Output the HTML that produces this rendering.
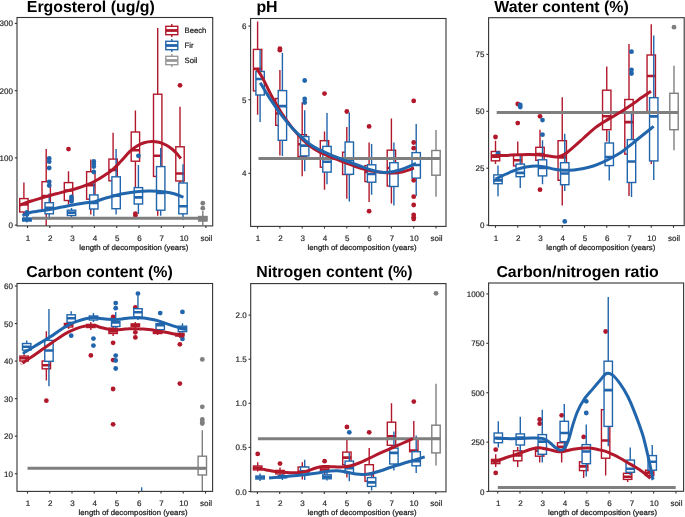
<!DOCTYPE html>
<html><head><meta charset="utf-8"><style>
html,body{margin:0;padding:0;background:#fff;}
svg{display:block;font-family:"Liberation Sans",sans-serif;text-rendering:geometricPrecision;will-change:transform;}
</style></head><body>
<svg width="685" height="517" viewBox="0 0 685 517">
<rect width="685" height="517" fill="#fff"/>
<clipPath id="c1"><rect x="17" y="17.5" width="195.7" height="208.4"/></clipPath><text x="26.8" y="11.6" font-size="15.9" font-weight="bold" fill="#000">Ergosterol (ug/g)</text><g clip-path="url(#c1)"><g stroke="#B2182B" stroke-width="1.4" fill="none"><line x1="23.9" y1="182.5" x2="23.9" y2="198.6"/><line x1="23.9" y1="212" x2="23.9" y2="216.5"/><rect x="19.7" y="198.6" width="8.4" height="13.4" fill="#fff"/><line x1="19.7" y1="204.5" x2="28.1" y2="204.5" stroke-width="2.6"/></g><g stroke="#B2182B" stroke-width="1.4" fill="none"><line x1="46.2" y1="149.1" x2="46.2" y2="181.7"/><line x1="46.2" y1="210.5" x2="46.2" y2="225.8"/><rect x="42" y="181.7" width="8.4" height="28.8" fill="#fff"/><line x1="42" y1="196" x2="50.4" y2="196" stroke-width="2.6"/></g><g stroke="#B2182B" stroke-width="1.4" fill="none"><line x1="68.5" y1="171.2" x2="68.5" y2="182.6"/><line x1="68.5" y1="200.5" x2="68.5" y2="204.5"/><rect x="64.3" y="182.6" width="8.4" height="17.9" fill="#fff"/><line x1="64.3" y1="190.5" x2="72.7" y2="190.5" stroke-width="2.6"/></g><circle cx="68.5" cy="149.1" r="2.4" fill="#B2182B"/><g stroke="#B2182B" stroke-width="1.4" fill="none"><line x1="90.8" y1="159.5" x2="90.8" y2="171.7"/><line x1="90.8" y1="199.2" x2="90.8" y2="214.5"/><rect x="86.6" y="171.7" width="8.4" height="27.5" fill="#fff"/><line x1="86.6" y1="185.2" x2="95" y2="185.2" stroke-width="2.6"/></g><g stroke="#B2182B" stroke-width="1.4" fill="none"><line x1="113.1" y1="132.7" x2="113.1" y2="159.1"/><line x1="113.1" y1="180.8" x2="113.1" y2="205"/><rect x="108.9" y="159.1" width="8.4" height="21.7" fill="#fff"/><line x1="108.9" y1="170" x2="117.3" y2="170" stroke-width="2.6"/></g><g stroke="#B2182B" stroke-width="1.4" fill="none"><line x1="135.4" y1="110.6" x2="135.4" y2="132"/><line x1="135.4" y1="161.2" x2="135.4" y2="187"/><rect x="131.2" y="132" width="8.4" height="29.2" fill="#fff"/><line x1="131.2" y1="150.2" x2="139.6" y2="150.2" stroke-width="2.6"/></g><circle cx="135.4" cy="213.6" r="2.4" fill="#B2182B"/><circle cx="135.4" cy="215.6" r="2.4" fill="#B2182B"/><g stroke="#B2182B" stroke-width="1.4" fill="none"><line x1="157.7" y1="28.1" x2="157.7" y2="94.2"/><line x1="157.7" y1="176.4" x2="157.7" y2="215.8"/><rect x="153.5" y="94.2" width="8.4" height="82.2" fill="#fff"/><line x1="153.5" y1="155.7" x2="161.9" y2="155.7" stroke-width="2.6"/></g><g stroke="#B2182B" stroke-width="1.4" fill="none"><line x1="180" y1="106.8" x2="180" y2="146.8"/><line x1="180" y1="181" x2="180" y2="205"/><rect x="175.8" y="146.8" width="8.4" height="34.2" fill="#fff"/><line x1="175.8" y1="173.5" x2="184.2" y2="173.5" stroke-width="2.6"/></g><circle cx="180" cy="85.3" r="2.4" fill="#B2182B"/><g stroke="#2166AC" stroke-width="1.4" fill="none"><line x1="26.9" y1="215.5" x2="26.9" y2="218.2"/><line x1="26.9" y1="220.8" x2="26.9" y2="222.5"/><rect x="22.7" y="218.2" width="8.4" height="2.6" fill="#fff"/><line x1="22.7" y1="219.5" x2="31.1" y2="219.5" stroke-width="2.6"/></g><circle cx="26.9" cy="212.5" r="2.4" fill="#2166AC"/><circle cx="26.9" cy="214.5" r="2.4" fill="#2166AC"/><g stroke="#2166AC" stroke-width="1.4" fill="none"><line x1="49.2" y1="193.6" x2="49.2" y2="202.7"/><line x1="49.2" y1="213.8" x2="49.2" y2="219.6"/><rect x="45" y="202.7" width="8.4" height="11.1" fill="#fff"/><line x1="45" y1="207.9" x2="53.4" y2="207.9" stroke-width="2.6"/></g><circle cx="49.2" cy="158.4" r="2.4" fill="#2166AC"/><circle cx="49.2" cy="161.7" r="2.4" fill="#2166AC"/><circle cx="49.2" cy="168" r="2.4" fill="#2166AC"/><circle cx="49.2" cy="181.8" r="2.4" fill="#2166AC"/><circle cx="49.2" cy="185.6" r="2.4" fill="#2166AC"/><g stroke="#2166AC" stroke-width="1.4" fill="none"><line x1="71.5" y1="208" x2="71.5" y2="210.2"/><line x1="71.5" y1="215.5" x2="71.5" y2="217"/><rect x="67.3" y="210.2" width="8.4" height="5.3" fill="#fff"/><line x1="67.3" y1="212.6" x2="75.7" y2="212.6" stroke-width="2.6"/></g><circle cx="71.5" cy="197" r="2.4" fill="#2166AC"/><circle cx="71.5" cy="199.1" r="2.4" fill="#2166AC"/><circle cx="71.5" cy="201.4" r="2.4" fill="#2166AC"/><g stroke="#2166AC" stroke-width="1.4" fill="none"><line x1="93.8" y1="183" x2="93.8" y2="194.9"/><line x1="93.8" y1="209" x2="93.8" y2="216.3"/><rect x="89.6" y="194.9" width="8.4" height="14.1" fill="#fff"/><line x1="89.6" y1="203" x2="98" y2="203" stroke-width="2.6"/></g><circle cx="93.8" cy="161.5" r="2.4" fill="#2166AC"/><circle cx="93.8" cy="163.8" r="2.4" fill="#2166AC"/><circle cx="93.8" cy="166.6" r="2.4" fill="#2166AC"/><circle cx="93.8" cy="172" r="2.4" fill="#2166AC"/><g stroke="#2166AC" stroke-width="1.4" fill="none"><line x1="116.1" y1="149" x2="116.1" y2="176.8"/><line x1="116.1" y1="208.7" x2="116.1" y2="214.5"/><rect x="111.9" y="176.8" width="8.4" height="31.9" fill="#fff"/><line x1="111.9" y1="195.6" x2="120.3" y2="195.6" stroke-width="2.6"/></g><g stroke="#2166AC" stroke-width="1.4" fill="none"><line x1="138.4" y1="165" x2="138.4" y2="187.6"/><line x1="138.4" y1="204" x2="138.4" y2="214"/><rect x="134.2" y="187.6" width="8.4" height="16.4" fill="#fff"/><line x1="134.2" y1="197.4" x2="142.6" y2="197.4" stroke-width="2.6"/></g><circle cx="138.4" cy="155.8" r="2.4" fill="#2166AC"/><g stroke="#2166AC" stroke-width="1.4" fill="none"><line x1="160.7" y1="148.1" x2="160.7" y2="166.6"/><line x1="160.7" y1="210.2" x2="160.7" y2="215.8"/><rect x="156.5" y="166.6" width="8.4" height="43.6" fill="#fff"/><line x1="156.5" y1="193" x2="164.9" y2="193" stroke-width="2.6"/></g><g stroke="#2166AC" stroke-width="1.4" fill="none"><line x1="183" y1="164.2" x2="183" y2="183"/><line x1="183" y1="213.8" x2="183" y2="220"/><rect x="178.8" y="183" width="8.4" height="30.8" fill="#fff"/><line x1="178.8" y1="206.3" x2="187.2" y2="206.3" stroke-width="2.6"/></g><g stroke="#7f7f7f" stroke-width="1.4" fill="none"><line x1="202.8" y1="211" x2="202.8" y2="216.6"/><line x1="202.8" y1="220.8" x2="202.8" y2="225"/><rect x="198.6" y="216.6" width="8.4" height="4.2" fill="#fff"/><line x1="198.6" y1="218.4" x2="207" y2="218.4" stroke-width="2.6"/></g><circle cx="202.8" cy="203.2" r="2.4" fill="#7f7f7f"/><circle cx="202.8" cy="208.2" r="2.4" fill="#7f7f7f"/><rect x="22.1" y="217.5" width="9.7" height="4" fill="#2166AC"/><rect x="198.3" y="215.9" width="9" height="5.6" fill="#7f7f7f"/><line x1="31.8" y1="218.3" x2="206" y2="218.3" stroke="#7f7f7f" stroke-width="3"/><path d="M19.5,205.2 C20.38,204.85 22.47,203.9 24.8,203.1 C27.13,202.3 30.58,201.28 33.5,200.4 C36.42,199.52 39.38,198.67 42.3,197.8 C45.22,196.93 48.08,196.02 51,195.2 C53.92,194.38 56.87,193.68 59.8,192.9 C62.73,192.12 65.68,191.28 68.6,190.5 C71.52,189.72 74.38,189.08 77.3,188.2 C80.22,187.32 83.18,186.37 86.1,185.2 C89.02,184.03 91.88,182.75 94.8,181.2 C97.72,179.65 100.67,177.8 103.6,175.9 C106.53,174 109.48,172.28 112.4,169.8 C115.32,167.32 118.18,164.07 121.1,161 C124.02,157.93 127.25,153.9 129.9,151.4 C132.55,148.9 134.65,147.43 137,146 C139.35,144.57 141.57,143.55 144,142.8 C146.43,142.05 149.1,141.58 151.6,141.5 C154.1,141.42 156.6,141.72 159,142.3 C161.4,142.88 163.83,143.88 166,145 C168.17,146.12 170.17,147.53 172,149 C173.83,150.47 175.53,152.2 177,153.8 C178.47,155.4 180.17,157.8 180.8,158.6" fill="none" stroke="#B2182B" stroke-width="3" stroke-linecap="butt" stroke-linejoin="round"/><path d="M22.5,215.5 C23.17,215.18 24.67,214.22 26.5,213.6 C28.33,212.98 29.42,212.53 33.5,211.8 C37.58,211.07 45.15,210.22 51,209.2 C56.85,208.18 62.75,206.78 68.6,205.7 C74.45,204.62 81.73,203.37 86.1,202.7 C90.47,202.03 91.88,202.37 94.8,201.7 C97.72,201.03 100.67,199.58 103.6,198.7 C106.53,197.82 109.48,197.18 112.4,196.4 C115.32,195.62 117.17,194.78 121.1,194 C125.03,193.22 131.13,192.18 136,191.7 C140.87,191.22 145.47,191.05 150.3,191.1 C155.13,191.15 160.88,191.52 165,192 C169.12,192.48 171.92,193.13 175,194 C178.08,194.87 182.08,196.67 183.5,197.2" fill="none" stroke="#2166AC" stroke-width="3" stroke-linecap="butt" stroke-linejoin="round"/></g><rect x="17" y="17.5" width="195.7" height="208.4" fill="none" stroke="#333333" stroke-width="1.1"/><line x1="14.8" y1="225.1" x2="17" y2="225.1" stroke="#333333" stroke-width="1.1"/><text x="12.9" y="228.1" font-size="8" text-anchor="end" fill="#222222" stroke="#333" stroke-width="0.2">0</text><line x1="14.8" y1="157.9" x2="17" y2="157.9" stroke="#333333" stroke-width="1.1"/><text x="12.9" y="160.9" font-size="8" text-anchor="end" fill="#222222" stroke="#333" stroke-width="0.2">100</text><line x1="14.8" y1="90.7" x2="17" y2="90.7" stroke="#333333" stroke-width="1.1"/><text x="12.9" y="93.7" font-size="8" text-anchor="end" fill="#222222" stroke="#333" stroke-width="0.2">200</text><line x1="14.8" y1="23.4" x2="17" y2="23.4" stroke="#333333" stroke-width="1.1"/><text x="12.9" y="26.4" font-size="8" text-anchor="end" fill="#222222" stroke="#333" stroke-width="0.2">300</text><line x1="27.5" y1="225.9" x2="27.5" y2="228.1" stroke="#333333" stroke-width="1.1"/><text x="28" y="240.8" font-size="8" text-anchor="middle" fill="#222222" stroke="#333" stroke-width="0.2">1</text><line x1="49.8" y1="225.9" x2="49.8" y2="228.1" stroke="#333333" stroke-width="1.1"/><text x="50.3" y="240.8" font-size="8" text-anchor="middle" fill="#222222" stroke="#333" stroke-width="0.2">2</text><line x1="72.1" y1="225.9" x2="72.1" y2="228.1" stroke="#333333" stroke-width="1.1"/><text x="72.6" y="240.8" font-size="8" text-anchor="middle" fill="#222222" stroke="#333" stroke-width="0.2">3</text><line x1="94.4" y1="225.9" x2="94.4" y2="228.1" stroke="#333333" stroke-width="1.1"/><text x="94.9" y="240.8" font-size="8" text-anchor="middle" fill="#222222" stroke="#333" stroke-width="0.2">4</text><line x1="116.7" y1="225.9" x2="116.7" y2="228.1" stroke="#333333" stroke-width="1.1"/><text x="117.2" y="240.8" font-size="8" text-anchor="middle" fill="#222222" stroke="#333" stroke-width="0.2">5</text><line x1="139" y1="225.9" x2="139" y2="228.1" stroke="#333333" stroke-width="1.1"/><text x="139.5" y="240.8" font-size="8" text-anchor="middle" fill="#222222" stroke="#333" stroke-width="0.2">6</text><line x1="161.3" y1="225.9" x2="161.3" y2="228.1" stroke="#333333" stroke-width="1.1"/><text x="161.8" y="240.8" font-size="8" text-anchor="middle" fill="#222222" stroke="#333" stroke-width="0.2">7</text><line x1="183.6" y1="225.9" x2="183.6" y2="228.1" stroke="#333333" stroke-width="1.1"/><text x="184.1" y="240.8" font-size="8" text-anchor="middle" fill="#222222" stroke="#333" stroke-width="0.2">10</text><line x1="205.9" y1="225.9" x2="205.9" y2="228.1" stroke="#333333" stroke-width="1.1"/><text x="206.4" y="240.8" font-size="8" text-anchor="middle" fill="#222222" stroke="#333" stroke-width="0.2">soil</text><text x="79.3" y="249.6" font-size="7.5" textLength="109" lengthAdjust="spacingAndGlyphs" fill="#111" stroke="#222" stroke-width="0.22">length of decomposition (years)</text>
<clipPath id="c2"><rect x="250.6" y="18.5" width="195.4" height="207.9"/></clipPath><text x="256.4" y="11.8" font-size="15.9" font-weight="bold" fill="#000">pH</text><g clip-path="url(#c2)"><g stroke="#B2182B" stroke-width="1.4" fill="none"><line x1="257.6" y1="21.5" x2="257.6" y2="49.4"/><line x1="257.6" y1="90.9" x2="257.6" y2="114.8"/><rect x="253.4" y="49.4" width="8.4" height="41.5" fill="#fff"/><line x1="253.4" y1="68.9" x2="261.8" y2="68.9" stroke-width="2.6"/></g><g stroke="#B2182B" stroke-width="1.4" fill="none"><line x1="279.9" y1="69.9" x2="279.9" y2="98.5"/><line x1="279.9" y1="125.3" x2="279.9" y2="155.5"/><rect x="275.7" y="98.5" width="8.4" height="26.8" fill="#fff"/><line x1="275.7" y1="113.5" x2="284.1" y2="113.5" stroke-width="2.6"/></g><circle cx="279.9" cy="48.6" r="2.4" fill="#B2182B"/><circle cx="279.9" cy="50.2" r="2.4" fill="#B2182B"/><g stroke="#B2182B" stroke-width="1.4" fill="none"><line x1="302.2" y1="102.5" x2="302.2" y2="134.7"/><line x1="302.2" y1="156.4" x2="302.2" y2="176.2"/><rect x="298" y="134.7" width="8.4" height="21.7" fill="#fff"/><line x1="298" y1="144.2" x2="306.4" y2="144.2" stroke-width="2.6"/></g><g stroke="#B2182B" stroke-width="1.4" fill="none"><line x1="324.5" y1="131.5" x2="324.5" y2="140.7"/><line x1="324.5" y1="167.2" x2="324.5" y2="189.7"/><rect x="320.3" y="140.7" width="8.4" height="26.5" fill="#fff"/><line x1="320.3" y1="150" x2="328.7" y2="150" stroke-width="2.6"/></g><circle cx="324.5" cy="93.6" r="2.4" fill="#B2182B"/><g stroke="#B2182B" stroke-width="1.4" fill="none"><line x1="346.8" y1="126.9" x2="346.8" y2="152.2"/><line x1="346.8" y1="174.5" x2="346.8" y2="198.7"/><rect x="342.6" y="152.2" width="8.4" height="22.3" fill="#fff"/><line x1="342.6" y1="160" x2="351" y2="160" stroke-width="2.6"/></g><circle cx="346.8" cy="111.5" r="2.4" fill="#B2182B"/><g stroke="#B2182B" stroke-width="1.4" fill="none"><line x1="369.1" y1="142.4" x2="369.1" y2="165.6"/><line x1="369.1" y1="181.6" x2="369.1" y2="201.9"/><rect x="364.9" y="165.6" width="8.4" height="16" fill="#fff"/><line x1="364.9" y1="172" x2="373.3" y2="172" stroke-width="2.6"/></g><circle cx="369.1" cy="126.4" r="2.4" fill="#B2182B"/><circle cx="369.1" cy="211.2" r="2.4" fill="#B2182B"/><g stroke="#B2182B" stroke-width="1.4" fill="none"><line x1="391.4" y1="118.6" x2="391.4" y2="150.2"/><line x1="391.4" y1="186" x2="391.4" y2="203.4"/><rect x="387.2" y="150.2" width="8.4" height="35.8" fill="#fff"/><line x1="387.2" y1="168" x2="395.6" y2="168" stroke-width="2.6"/></g><g stroke="#2166AC" stroke-width="1.4" fill="none"><line x1="260.1" y1="49.4" x2="260.1" y2="71.5"/><line x1="260.1" y1="95" x2="260.1" y2="122"/><rect x="255.9" y="71.5" width="8.4" height="23.5" fill="#fff"/><line x1="255.9" y1="79" x2="264.3" y2="79" stroke-width="2.6"/></g><g stroke="#2166AC" stroke-width="1.4" fill="none"><line x1="282.4" y1="52.8" x2="282.4" y2="90.6"/><line x1="282.4" y1="140.3" x2="282.4" y2="156"/><rect x="278.2" y="90.6" width="8.4" height="49.7" fill="#fff"/><line x1="278.2" y1="106.1" x2="286.6" y2="106.1" stroke-width="2.6"/></g><g stroke="#2166AC" stroke-width="1.4" fill="none"><line x1="304.7" y1="110.3" x2="304.7" y2="136.6"/><line x1="304.7" y1="155.9" x2="304.7" y2="171.3"/><rect x="300.5" y="136.6" width="8.4" height="19.3" fill="#fff"/><line x1="300.5" y1="145.6" x2="308.9" y2="145.6" stroke-width="2.6"/></g><circle cx="304.7" cy="80.5" r="2.4" fill="#2166AC"/><circle cx="304.7" cy="99" r="2.4" fill="#2166AC"/><circle cx="304.7" cy="102.5" r="2.4" fill="#2166AC"/><g stroke="#2166AC" stroke-width="1.4" fill="none"><line x1="327" y1="113" x2="327" y2="146.4"/><line x1="327" y1="172.1" x2="327" y2="184.3"/><rect x="322.8" y="146.4" width="8.4" height="25.7" fill="#fff"/><line x1="322.8" y1="161.8" x2="331.2" y2="161.8" stroke-width="2.6"/></g><g stroke="#2166AC" stroke-width="1.4" fill="none"><line x1="349.3" y1="112.5" x2="349.3" y2="142"/><line x1="349.3" y1="174.3" x2="349.3" y2="201.5"/><rect x="345.1" y="142" width="8.4" height="32.3" fill="#fff"/><line x1="345.1" y1="159.8" x2="353.5" y2="159.8" stroke-width="2.6"/></g><g stroke="#2166AC" stroke-width="1.4" fill="none"><line x1="371.6" y1="143.9" x2="371.6" y2="164.8"/><line x1="371.6" y1="182.2" x2="371.6" y2="194.7"/><rect x="367.4" y="164.8" width="8.4" height="17.4" fill="#fff"/><line x1="367.4" y1="174" x2="375.8" y2="174" stroke-width="2.6"/></g><g stroke="#2166AC" stroke-width="1.4" fill="none"><line x1="393.9" y1="142.4" x2="393.9" y2="162.7"/><line x1="393.9" y1="186.5" x2="393.9" y2="205.4"/><rect x="389.7" y="162.7" width="8.4" height="23.8" fill="#fff"/><line x1="389.7" y1="172.9" x2="398.1" y2="172.9" stroke-width="2.6"/></g><g stroke="#2166AC" stroke-width="1.4" fill="none"><line x1="416.2" y1="124.1" x2="416.2" y2="152.6"/><line x1="416.2" y1="178.1" x2="416.2" y2="196.1"/><rect x="412" y="152.6" width="8.4" height="25.5" fill="#fff"/><line x1="412" y1="165" x2="420.4" y2="165" stroke-width="2.6"/></g><g stroke="#7f7f7f" stroke-width="1.4" fill="none"><line x1="436" y1="129.9" x2="436" y2="150.5"/><line x1="436" y1="175.2" x2="436" y2="196.7"/><rect x="431.8" y="150.5" width="8.4" height="24.7" fill="#fff"/><line x1="431.8" y1="158.4" x2="440.2" y2="158.4" stroke-width="2.6"/></g><circle cx="413.7" cy="100.9" r="2.4" fill="#B2182B"/><circle cx="413.7" cy="142.5" r="2.4" fill="#B2182B"/><circle cx="413.7" cy="148.2" r="2.4" fill="#B2182B"/><circle cx="413.7" cy="180.3" r="2.4" fill="#B2182B"/><circle cx="413.7" cy="196.7" r="2.4" fill="#B2182B"/><circle cx="413.7" cy="205.0" r="2.4" fill="#B2182B"/><circle cx="413.7" cy="214.8" r="2.4" fill="#B2182B"/><circle cx="413.7" cy="217.3" r="2.4" fill="#B2182B"/><circle cx="413.7" cy="219.0" r="2.4" fill="#B2182B"/><line x1="258.5" y1="158.5" x2="440" y2="158.5" stroke="#7f7f7f" stroke-width="3"/><path d="M256.4,68.2 C257.47,69.9 260.32,73.87 262.8,78.4 C265.28,82.93 268.12,89.55 271.3,95.4 C274.48,101.25 278.35,108 281.9,113.5 C285.45,119 289.05,123.97 292.6,128.4 C296.15,132.83 299.67,136.73 303.2,140.1 C306.73,143.47 309.33,145.83 313.8,148.6 C318.27,151.37 324.8,154.38 330,156.7 C335.2,159.02 340,160.62 345,162.5 C350,164.38 355,166.5 360,168 C365,169.5 370,170.67 375,171.5 C380,172.33 385.5,172.92 390,173 C394.5,173.08 398,172.83 402,172 C406,171.17 412,168.67 414,168" fill="none" stroke="#B2182B" stroke-width="3" stroke-linecap="butt" stroke-linejoin="round"/><path d="M260.2,82.7 C262.05,85.7 267.68,95.22 271.3,100.7 C274.92,106.18 278.35,110.98 281.9,115.6 C285.45,120.22 289.05,124.57 292.6,128.4 C296.15,132.23 299.67,135.52 303.2,138.6 C306.73,141.68 309.33,144.23 313.8,146.9 C318.27,149.57 324.8,152.33 330,154.6 C335.2,156.87 340,158.6 345,160.5 C350,162.4 355,164.25 360,166 C365,167.75 370.83,169.92 375,171 C379.17,172.08 380.83,172.67 385,172.5 C389.17,172.33 394.83,171.5 400,170 C405.17,168.5 413.33,164.58 416,163.5" fill="none" stroke="#2166AC" stroke-width="3" stroke-linecap="butt" stroke-linejoin="round"/></g><rect x="250.6" y="18.5" width="195.4" height="207.9" fill="none" stroke="#333333" stroke-width="1.1"/><line x1="248.4" y1="173.3" x2="250.6" y2="173.3" stroke="#333333" stroke-width="1.1"/><text x="246.5" y="176.3" font-size="8" text-anchor="end" fill="#222222" stroke="#333" stroke-width="0.2">4</text><line x1="248.4" y1="99.7" x2="250.6" y2="99.7" stroke="#333333" stroke-width="1.1"/><text x="246.5" y="102.7" font-size="8" text-anchor="end" fill="#222222" stroke="#333" stroke-width="0.2">5</text><line x1="248.4" y1="26.1" x2="250.6" y2="26.1" stroke="#333333" stroke-width="1.1"/><text x="246.5" y="29.1" font-size="8" text-anchor="end" fill="#222222" stroke="#333" stroke-width="0.2">6</text><line x1="257.6" y1="226.4" x2="257.6" y2="228.6" stroke="#333333" stroke-width="1.1"/><text x="258.1" y="240.8" font-size="8" text-anchor="middle" fill="#222222" stroke="#333" stroke-width="0.2">1</text><line x1="279.9" y1="226.4" x2="279.9" y2="228.6" stroke="#333333" stroke-width="1.1"/><text x="280.4" y="240.8" font-size="8" text-anchor="middle" fill="#222222" stroke="#333" stroke-width="0.2">2</text><line x1="302.2" y1="226.4" x2="302.2" y2="228.6" stroke="#333333" stroke-width="1.1"/><text x="302.7" y="240.8" font-size="8" text-anchor="middle" fill="#222222" stroke="#333" stroke-width="0.2">3</text><line x1="324.5" y1="226.4" x2="324.5" y2="228.6" stroke="#333333" stroke-width="1.1"/><text x="325" y="240.8" font-size="8" text-anchor="middle" fill="#222222" stroke="#333" stroke-width="0.2">4</text><line x1="346.8" y1="226.4" x2="346.8" y2="228.6" stroke="#333333" stroke-width="1.1"/><text x="347.3" y="240.8" font-size="8" text-anchor="middle" fill="#222222" stroke="#333" stroke-width="0.2">5</text><line x1="369.1" y1="226.4" x2="369.1" y2="228.6" stroke="#333333" stroke-width="1.1"/><text x="369.6" y="240.8" font-size="8" text-anchor="middle" fill="#222222" stroke="#333" stroke-width="0.2">6</text><line x1="391.4" y1="226.4" x2="391.4" y2="228.6" stroke="#333333" stroke-width="1.1"/><text x="391.9" y="240.8" font-size="8" text-anchor="middle" fill="#222222" stroke="#333" stroke-width="0.2">7</text><line x1="413.7" y1="226.4" x2="413.7" y2="228.6" stroke="#333333" stroke-width="1.1"/><text x="414.2" y="240.8" font-size="8" text-anchor="middle" fill="#222222" stroke="#333" stroke-width="0.2">10</text><line x1="436" y1="226.4" x2="436" y2="228.6" stroke="#333333" stroke-width="1.1"/><text x="436.5" y="240.8" font-size="8" text-anchor="middle" fill="#222222" stroke="#333" stroke-width="0.2">soil</text><text x="307.5" y="249.6" font-size="7.5" textLength="109" lengthAdjust="spacingAndGlyphs" fill="#111" stroke="#222" stroke-width="0.22">length of decomposition (years)</text>
<clipPath id="c3"><rect x="488.6" y="17.7" width="195.6" height="207.9"/></clipPath><text x="494.3" y="11.8" font-size="15.9" font-weight="bold" fill="#000">Water content (%)</text><g clip-path="url(#c3)"><g stroke="#B2182B" stroke-width="1.4" fill="none"><line x1="495.5" y1="140.7" x2="495.5" y2="151.5"/><line x1="495.5" y1="160.8" x2="495.5" y2="164.1"/><rect x="491.3" y="151.5" width="8.4" height="9.3" fill="#fff"/><line x1="491.3" y1="156.6" x2="499.7" y2="156.6" stroke-width="2.6"/></g><circle cx="495.5" cy="137" r="2.4" fill="#B2182B"/><g stroke="#B2182B" stroke-width="1.4" fill="none"><line x1="517.75" y1="141.5" x2="517.75" y2="155.3"/><line x1="517.75" y1="165.9" x2="517.75" y2="168"/><rect x="513.55" y="155.3" width="8.4" height="10.6" fill="#fff"/><line x1="513.55" y1="160.3" x2="521.95" y2="160.3" stroke-width="2.6"/></g><circle cx="517.75" cy="104" r="2.4" fill="#B2182B"/><circle cx="517.75" cy="123.1" r="2.4" fill="#B2182B"/><g stroke="#B2182B" stroke-width="1.4" fill="none"><line x1="540" y1="129.7" x2="540" y2="147.3"/><line x1="540" y1="160.3" x2="540" y2="165"/><rect x="535.8" y="147.3" width="8.4" height="13" fill="#fff"/><line x1="535.8" y1="154" x2="544.2" y2="154" stroke-width="2.6"/></g><circle cx="540" cy="116.3" r="2.4" fill="#B2182B"/><circle cx="540" cy="189.7" r="2.4" fill="#B2182B"/><g stroke="#B2182B" stroke-width="1.4" fill="none"><line x1="562.25" y1="97.2" x2="562.25" y2="140.7"/><line x1="562.25" y1="180.3" x2="562.25" y2="205.5"/><rect x="558.05" y="140.7" width="8.4" height="39.6" fill="#fff"/><line x1="558.05" y1="157.4" x2="566.45" y2="157.4" stroke-width="2.6"/></g><g stroke="#B2182B" stroke-width="1.4" fill="none"><line x1="606.75" y1="66.6" x2="606.75" y2="90.2"/><line x1="606.75" y1="129.7" x2="606.75" y2="141.5"/><rect x="602.55" y="90.2" width="8.4" height="39.5" fill="#fff"/><line x1="602.55" y1="116.3" x2="610.95" y2="116.3" stroke-width="2.6"/></g><g stroke="#B2182B" stroke-width="1.4" fill="none"><line x1="629" y1="43.9" x2="629" y2="99.5"/><line x1="629" y1="154.1" x2="629" y2="196.1"/><rect x="624.8" y="99.5" width="8.4" height="54.6" fill="#fff"/><line x1="624.8" y1="122.1" x2="633.2" y2="122.1" stroke-width="2.6"/></g><g stroke="#B2182B" stroke-width="1.4" fill="none"><line x1="651.25" y1="24.3" x2="651.25" y2="55"/><line x1="651.25" y1="111.5" x2="651.25" y2="164"/><rect x="647.05" y="55" width="8.4" height="56.5" fill="#fff"/><line x1="647.05" y1="76" x2="655.45" y2="76" stroke-width="2.6"/></g><g stroke="#2166AC" stroke-width="1.4" fill="none"><line x1="498" y1="165.4" x2="498" y2="174.9"/><line x1="498" y1="183.7" x2="498" y2="196.3"/><rect x="493.8" y="174.9" width="8.4" height="8.8" fill="#fff"/><line x1="493.8" y1="180.4" x2="502.2" y2="180.4" stroke-width="2.6"/></g><circle cx="498" cy="153.3" r="2.4" fill="#2166AC"/><g stroke="#2166AC" stroke-width="1.4" fill="none"><line x1="520.25" y1="154" x2="520.25" y2="164.1"/><line x1="520.25" y1="176.7" x2="520.25" y2="188"/><rect x="516.05" y="164.1" width="8.4" height="12.6" fill="#fff"/><line x1="516.05" y1="172.9" x2="524.45" y2="172.9" stroke-width="2.6"/></g><circle cx="520.25" cy="105" r="2.4" fill="#2166AC"/><circle cx="520.25" cy="107" r="2.4" fill="#2166AC"/><g stroke="#2166AC" stroke-width="1.4" fill="none"><line x1="542.5" y1="140.2" x2="542.5" y2="159.8"/><line x1="542.5" y1="175.9" x2="542.5" y2="184.2"/><rect x="538.3" y="159.8" width="8.4" height="16.1" fill="#fff"/><line x1="538.3" y1="167.9" x2="546.7" y2="167.9" stroke-width="2.6"/></g><circle cx="542.5" cy="120.1" r="2.4" fill="#2166AC"/><circle cx="542.5" cy="134.7" r="2.4" fill="#2166AC"/><g stroke="#2166AC" stroke-width="1.4" fill="none"><line x1="564.75" y1="133.7" x2="564.75" y2="162.7"/><line x1="564.75" y1="184.7" x2="564.75" y2="191"/><rect x="560.55" y="162.7" width="8.4" height="22" fill="#fff"/><line x1="560.55" y1="173.5" x2="568.95" y2="173.5" stroke-width="2.6"/></g><circle cx="564.75" cy="221.4" r="2.4" fill="#2166AC"/><g stroke="#2166AC" stroke-width="1.4" fill="none"><line x1="609.25" y1="130.7" x2="609.25" y2="143"/><line x1="609.25" y1="165.6" x2="609.25" y2="180.5"/><rect x="605.05" y="143" width="8.4" height="22.6" fill="#fff"/><line x1="605.05" y1="157" x2="613.45" y2="157" stroke-width="2.6"/></g><g stroke="#2166AC" stroke-width="1.4" fill="none"><line x1="631.5" y1="113.5" x2="631.5" y2="139.6"/><line x1="631.5" y1="182.5" x2="631.5" y2="196.9"/><rect x="627.3" y="139.6" width="8.4" height="42.9" fill="#fff"/><line x1="627.3" y1="161.5" x2="635.7" y2="161.5" stroke-width="2.6"/></g><circle cx="631.5" cy="51.7" r="2.4" fill="#2166AC"/><circle cx="631.5" cy="70" r="2.4" fill="#2166AC"/><circle cx="631.5" cy="73.6" r="2.4" fill="#2166AC"/><g stroke="#2166AC" stroke-width="1.4" fill="none"><line x1="653.75" y1="35.5" x2="653.75" y2="97.7"/><line x1="653.75" y1="160.9" x2="653.75" y2="180"/><rect x="649.55" y="97.7" width="8.4" height="63.2" fill="#fff"/><line x1="649.55" y1="116.4" x2="657.95" y2="116.4" stroke-width="2.6"/></g><g stroke="#7f7f7f" stroke-width="1.4" fill="none"><line x1="674" y1="65.7" x2="674" y2="93.3"/><line x1="674" y1="129.7" x2="674" y2="150.3"/><rect x="669.8" y="93.3" width="8.4" height="36.4" fill="#fff"/><line x1="669.8" y1="112.5" x2="678.2" y2="112.5" stroke-width="2.6"/></g><circle cx="674" cy="27.2" r="2.4" fill="#7f7f7f"/><line x1="496.7" y1="112.5" x2="678.3" y2="112.5" stroke="#7f7f7f" stroke-width="3"/><path d="M491,155.8 C493.33,155.73 500.5,155.57 505,155.4 C509.5,155.23 513.83,154.95 518,154.8 C522.17,154.65 525.5,154.4 530,154.5 C534.5,154.6 540.57,155 545,155.4 C549.43,155.8 553.38,157.07 556.6,156.9 C559.82,156.73 561.4,156.1 564.3,154.4 C567.2,152.7 570.77,149.43 574,146.7 C577.23,143.97 580.48,140.9 583.7,138 C586.92,135.1 590.08,131.88 593.3,129.3 C596.52,126.72 599.78,124.6 603,122.5 C606.22,120.4 609.38,118.63 612.6,116.7 C615.82,114.77 619.07,112.92 622.3,110.9 C625.53,108.88 628.78,106.82 632,104.6 C635.22,102.38 638.43,99.83 641.6,97.6 C644.77,95.37 649.43,92.27 651,91.2" fill="none" stroke="#B2182B" stroke-width="3" stroke-linecap="butt" stroke-linejoin="round"/><path d="M495.5,179.2 C497.08,178.42 501.3,176.18 505,174.5 C508.7,172.82 514.2,170.35 517.7,169.1 C521.2,167.85 522.98,167.53 526,167 C529.02,166.47 532.63,165.9 535.8,165.9 C538.97,165.9 541.85,166.43 545,167 C548.15,167.57 551.48,168.75 554.7,169.3 C557.92,169.85 561.08,170.2 564.3,170.3 C567.52,170.4 570.77,170.2 574,169.9 C577.23,169.6 580.48,169.15 583.7,168.5 C586.92,167.85 590.08,167.07 593.3,166 C596.52,164.93 599.78,163.55 603,162.1 C606.22,160.65 609.38,159.07 612.6,157.3 C615.82,155.53 619.07,153.75 622.3,151.5 C625.53,149.25 628.78,146.38 632,143.8 C635.22,141.22 638,138.9 641.6,136 C645.2,133.1 651.6,128 653.6,126.4" fill="none" stroke="#2166AC" stroke-width="3" stroke-linecap="butt" stroke-linejoin="round"/></g><rect x="488.6" y="17.7" width="195.6" height="207.9" fill="none" stroke="#333333" stroke-width="1.1"/><line x1="486.4" y1="225.1" x2="488.6" y2="225.1" stroke="#333333" stroke-width="1.1"/><text x="484.5" y="228.1" font-size="8" text-anchor="end" fill="#222222" stroke="#333" stroke-width="0.2">0</text><line x1="486.4" y1="168.2" x2="488.6" y2="168.2" stroke="#333333" stroke-width="1.1"/><text x="484.5" y="171.2" font-size="8" text-anchor="end" fill="#222222" stroke="#333" stroke-width="0.2">25</text><line x1="486.4" y1="111.3" x2="488.6" y2="111.3" stroke="#333333" stroke-width="1.1"/><text x="484.5" y="114.3" font-size="8" text-anchor="end" fill="#222222" stroke="#333" stroke-width="0.2">50</text><line x1="486.4" y1="54.4" x2="488.6" y2="54.4" stroke="#333333" stroke-width="1.1"/><text x="484.5" y="57.4" font-size="8" text-anchor="end" fill="#222222" stroke="#333" stroke-width="0.2">75</text><line x1="495.5" y1="225.6" x2="495.5" y2="227.8" stroke="#333333" stroke-width="1.1"/><text x="496" y="240.8" font-size="8" text-anchor="middle" fill="#222222" stroke="#333" stroke-width="0.2">1</text><line x1="517.75" y1="225.6" x2="517.75" y2="227.8" stroke="#333333" stroke-width="1.1"/><text x="518.25" y="240.8" font-size="8" text-anchor="middle" fill="#222222" stroke="#333" stroke-width="0.2">2</text><line x1="540" y1="225.6" x2="540" y2="227.8" stroke="#333333" stroke-width="1.1"/><text x="540.5" y="240.8" font-size="8" text-anchor="middle" fill="#222222" stroke="#333" stroke-width="0.2">3</text><line x1="562.25" y1="225.6" x2="562.25" y2="227.8" stroke="#333333" stroke-width="1.1"/><text x="562.75" y="240.8" font-size="8" text-anchor="middle" fill="#222222" stroke="#333" stroke-width="0.2">4</text><line x1="584.5" y1="225.6" x2="584.5" y2="227.8" stroke="#333333" stroke-width="1.1"/><text x="585" y="240.8" font-size="8" text-anchor="middle" fill="#222222" stroke="#333" stroke-width="0.2">5</text><line x1="606.75" y1="225.6" x2="606.75" y2="227.8" stroke="#333333" stroke-width="1.1"/><text x="607.25" y="240.8" font-size="8" text-anchor="middle" fill="#222222" stroke="#333" stroke-width="0.2">6</text><line x1="629" y1="225.6" x2="629" y2="227.8" stroke="#333333" stroke-width="1.1"/><text x="629.5" y="240.8" font-size="8" text-anchor="middle" fill="#222222" stroke="#333" stroke-width="0.2">7</text><line x1="651.25" y1="225.6" x2="651.25" y2="227.8" stroke="#333333" stroke-width="1.1"/><text x="651.75" y="240.8" font-size="8" text-anchor="middle" fill="#222222" stroke="#333" stroke-width="0.2">10</text><line x1="673.5" y1="225.6" x2="673.5" y2="227.8" stroke="#333333" stroke-width="1.1"/><text x="674" y="240.8" font-size="8" text-anchor="middle" fill="#222222" stroke="#333" stroke-width="0.2">soil</text><text x="546.3" y="249.6" font-size="7.5" textLength="109" lengthAdjust="spacingAndGlyphs" fill="#111" stroke="#222" stroke-width="0.22">length of decomposition (years)</text>
<clipPath id="c4"><rect x="17" y="283.5" width="195.6" height="207.9"/></clipPath><text x="26.2" y="276.9" font-size="15.9" font-weight="bold" fill="#000">Carbon content (%)</text><g clip-path="url(#c4)"><g stroke="#B2182B" stroke-width="1.4" fill="none"><line x1="24.1" y1="354.3" x2="24.1" y2="356.1"/><line x1="24.1" y1="361" x2="24.1" y2="363.5"/><rect x="19.9" y="356.1" width="8.4" height="4.9" fill="#fff"/><line x1="19.9" y1="358.3" x2="28.3" y2="358.3" stroke-width="2.6"/></g><g stroke="#B2182B" stroke-width="1.4" fill="none"><line x1="46.35" y1="331.3" x2="46.35" y2="361"/><line x1="46.35" y1="368.8" x2="46.35" y2="380.4"/><rect x="42.15" y="361" width="8.4" height="7.8" fill="#fff"/><line x1="42.15" y1="365.3" x2="50.55" y2="365.3" stroke-width="2.6"/></g><circle cx="46.35" cy="400.7" r="2.4" fill="#B2182B"/><g stroke="#B2182B" stroke-width="1.4" fill="none"><line x1="68.6" y1="321.5" x2="68.6" y2="323.5"/><line x1="68.6" y1="327" x2="68.6" y2="329"/><rect x="64.4" y="323.5" width="8.4" height="3.5" fill="#fff"/><line x1="64.4" y1="324.9" x2="72.8" y2="324.9" stroke-width="2.6"/></g><g stroke="#B2182B" stroke-width="1.4" fill="none"><line x1="90.85" y1="322" x2="90.85" y2="324.4"/><line x1="90.85" y1="327.5" x2="90.85" y2="330"/><rect x="86.65" y="324.4" width="8.4" height="3.1" fill="#fff"/><line x1="86.65" y1="325.8" x2="95.05" y2="325.8" stroke-width="2.6"/></g><circle cx="90.85" cy="355.4" r="2.4" fill="#B2182B"/><g stroke="#B2182B" stroke-width="1.4" fill="none"><line x1="113.1" y1="326" x2="113.1" y2="328.2"/><line x1="113.1" y1="333.5" x2="113.1" y2="336"/><rect x="108.9" y="328.2" width="8.4" height="5.3" fill="#fff"/><line x1="108.9" y1="331.5" x2="117.3" y2="331.5" stroke-width="2.6"/></g><circle cx="113.1" cy="317" r="2.4" fill="#B2182B"/><circle cx="113.1" cy="342.8" r="2.4" fill="#B2182B"/><circle cx="113.1" cy="360.1" r="2.4" fill="#B2182B"/><circle cx="113.1" cy="389" r="2.4" fill="#B2182B"/><circle cx="113.1" cy="424.3" r="2.4" fill="#B2182B"/><g stroke="#B2182B" stroke-width="1.4" fill="none"><line x1="135.35" y1="322" x2="135.35" y2="323.9"/><line x1="135.35" y1="326.5" x2="135.35" y2="329"/><rect x="131.15" y="323.9" width="8.4" height="2.6" fill="#fff"/><line x1="131.15" y1="325" x2="139.55" y2="325" stroke-width="2.6"/></g><circle cx="135.35" cy="307.5" r="2.4" fill="#B2182B"/><circle cx="135.35" cy="332.3" r="2.4" fill="#B2182B"/><circle cx="135.35" cy="337.4" r="2.4" fill="#B2182B"/><g stroke="#B2182B" stroke-width="1.4" fill="none"><line x1="157.6" y1="329" x2="157.6" y2="330.9"/><line x1="157.6" y1="333.5" x2="157.6" y2="335"/><rect x="153.4" y="330.9" width="8.4" height="2.6" fill="#fff"/><line x1="153.4" y1="332" x2="161.8" y2="332" stroke-width="2.6"/></g><g stroke="#B2182B" stroke-width="1.4" fill="none"><line x1="179.85" y1="331.5" x2="179.85" y2="333.5"/><line x1="179.85" y1="336" x2="179.85" y2="338"/><rect x="175.65" y="333.5" width="8.4" height="2.5" fill="#fff"/><line x1="175.65" y1="334.5" x2="184.05" y2="334.5" stroke-width="2.6"/></g><circle cx="179.85" cy="344.3" r="2.4" fill="#B2182B"/><circle cx="179.85" cy="383.6" r="2.4" fill="#B2182B"/><g stroke="#2166AC" stroke-width="1.4" fill="none"><line x1="26.7" y1="340.4" x2="26.7" y2="343.5"/><line x1="26.7" y1="350.1" x2="26.7" y2="352.2"/><rect x="22.5" y="343.5" width="8.4" height="6.6" fill="#fff"/><line x1="22.5" y1="346.7" x2="30.9" y2="346.7" stroke-width="2.6"/></g><g stroke="#2166AC" stroke-width="1.4" fill="none"><line x1="48.95" y1="309" x2="48.95" y2="340.4"/><line x1="48.95" y1="361.3" x2="48.95" y2="386.2"/><rect x="44.75" y="340.4" width="8.4" height="20.9" fill="#fff"/><line x1="44.75" y1="350.5" x2="53.15" y2="350.5" stroke-width="2.6"/></g><g stroke="#2166AC" stroke-width="1.4" fill="none"><line x1="71.2" y1="311.3" x2="71.2" y2="314.8"/><line x1="71.2" y1="322.3" x2="71.2" y2="325"/><rect x="67" y="314.8" width="8.4" height="7.5" fill="#fff"/><line x1="67" y1="318.3" x2="75.4" y2="318.3" stroke-width="2.6"/></g><circle cx="71.2" cy="335.7" r="2.4" fill="#2166AC"/><g stroke="#2166AC" stroke-width="1.4" fill="none"><line x1="93.45" y1="313" x2="93.45" y2="316"/><line x1="93.45" y1="320" x2="93.45" y2="322"/><rect x="89.25" y="316" width="8.4" height="4" fill="#fff"/><line x1="89.25" y1="317.8" x2="97.65" y2="317.8" stroke-width="2.6"/></g><circle cx="93.45" cy="338.6" r="2.4" fill="#2166AC"/><circle cx="93.45" cy="345.6" r="2.4" fill="#2166AC"/><g stroke="#2166AC" stroke-width="1.4" fill="none"><line x1="115.7" y1="311.9" x2="115.7" y2="321"/><line x1="115.7" y1="326.5" x2="115.7" y2="329"/><rect x="111.5" y="321" width="8.4" height="5.5" fill="#fff"/><line x1="111.5" y1="322.4" x2="119.9" y2="322.4" stroke-width="2.6"/></g><circle cx="115.7" cy="303.1" r="2.4" fill="#2166AC"/><circle cx="115.7" cy="308.2" r="2.4" fill="#2166AC"/><circle cx="115.7" cy="355.6" r="2.4" fill="#2166AC"/><circle cx="115.7" cy="360.5" r="2.4" fill="#2166AC"/><circle cx="115.7" cy="368.5" r="2.4" fill="#2166AC"/><g stroke="#2166AC" stroke-width="1.4" fill="none"><line x1="137.95" y1="295.8" x2="137.95" y2="308.7"/><line x1="137.95" y1="317" x2="137.95" y2="320"/><rect x="133.75" y="308.7" width="8.4" height="8.3" fill="#fff"/><line x1="133.75" y1="312.2" x2="142.15" y2="312.2" stroke-width="2.6"/></g><circle cx="137.95" cy="293.6" r="2.4" fill="#2166AC"/><g stroke="#2166AC" stroke-width="1.4" fill="none"><line x1="160.2" y1="320.7" x2="160.2" y2="323.6"/><line x1="160.2" y1="329.7" x2="160.2" y2="331.5"/><rect x="156" y="323.6" width="8.4" height="6.1" fill="#fff"/><line x1="156" y1="325.3" x2="164.4" y2="325.3" stroke-width="2.6"/></g><circle cx="160.2" cy="313.1" r="2.4" fill="#2166AC"/><g stroke="#2166AC" stroke-width="1.4" fill="none"><line x1="182.45" y1="323.3" x2="182.45" y2="326.2"/><line x1="182.45" y1="331.6" x2="182.45" y2="333"/><rect x="178.25" y="326.2" width="8.4" height="5.4" fill="#fff"/><line x1="178.25" y1="328.2" x2="186.65" y2="328.2" stroke-width="2.6"/></g><circle cx="182.45" cy="311.9" r="2.4" fill="#2166AC"/><circle cx="182.45" cy="338.9" r="2.4" fill="#2166AC"/><g stroke="#7f7f7f" stroke-width="1.4" fill="none"><line x1="202.3" y1="430.3" x2="202.3" y2="456.2"/><line x1="202.3" y1="475" x2="202.3" y2="492"/><rect x="198.1" y="456.2" width="8.4" height="18.8" fill="#fff"/><line x1="198.1" y1="468.2" x2="206.5" y2="468.2" stroke-width="2.6"/></g><circle cx="202.3" cy="359.4" r="2.4" fill="#7f7f7f"/><circle cx="202.3" cy="406.8" r="2.4" fill="#7f7f7f"/><circle cx="202.3" cy="419.5" r="2.4" fill="#7f7f7f"/><circle cx="202.3" cy="421.9" r="2.4" fill="#7f7f7f"/><circle cx="202.3" cy="423.6" r="2.4" fill="#7f7f7f"/><line x1="141.7" y1="487.3" x2="141.7" y2="491" stroke="#2166AC" stroke-width="1.25"/><line x1="27.5" y1="468.2" x2="205.5" y2="468.2" stroke="#7f7f7f" stroke-width="3"/><path d="M22.5,363.1 C22.58,363.03 21.18,363.93 23,362.7 C24.82,361.47 30.22,357.88 33.4,355.7 C36.58,353.52 39.2,351.63 42.1,349.6 C45,347.57 47.9,345.53 50.8,343.5 C53.7,341.47 56.6,339.28 59.5,337.4 C62.4,335.52 65.3,333.7 68.2,332.2 C71.1,330.7 74,329.42 76.9,328.4 C79.8,327.38 82.7,326.57 85.6,326.1 C88.5,325.63 91.9,325.42 94.3,325.6 C96.7,325.78 97.83,326.62 100,327.2 C102.17,327.78 104.87,328.68 107.3,329.1 C109.73,329.52 112.17,329.65 114.6,329.7 C117.03,329.75 119.47,329.57 121.9,329.4 C124.33,329.23 126.77,328.82 129.2,328.7 C131.63,328.58 134.07,328.63 136.5,328.7 C138.93,328.77 141.37,328.93 143.8,329.1 C146.23,329.27 148.67,329.35 151.1,329.7 C153.53,330.05 155.97,330.77 158.4,331.2 C160.83,331.63 163.27,331.87 165.7,332.3 C168.13,332.73 170.57,333.27 173,333.8 C175.43,334.33 178.48,335.07 180.3,335.5 C182.12,335.93 183.3,336.25 183.9,336.4" fill="none" stroke="#B2182B" stroke-width="3" stroke-linecap="butt" stroke-linejoin="round"/><path d="M24.2,352.5 C24.28,352.45 23.17,353.12 24.7,352.2 C26.23,351.28 30.5,348.73 33.4,347 C36.3,345.27 39.2,343.53 42.1,341.8 C45,340.07 47.9,338.48 50.8,336.6 C53.7,334.72 56.6,332.4 59.5,330.5 C62.4,328.6 65.3,326.72 68.2,325.2 C71.1,323.68 74,322.47 76.9,321.4 C79.8,320.33 82.7,319.47 85.6,318.8 C88.5,318.13 91.9,317.45 94.3,317.4 C96.7,317.35 97.83,318.2 100,318.5 C102.17,318.8 104.87,319.02 107.3,319.2 C109.73,319.38 112.17,319.65 114.6,319.6 C117.03,319.55 119.47,319.17 121.9,318.9 C124.33,318.63 126.77,318.2 129.2,318 C131.63,317.8 134.07,317.7 136.5,317.7 C138.93,317.7 141.37,317.75 143.8,318 C146.23,318.25 148.67,318.72 151.1,319.2 C153.53,319.68 155.97,320.22 158.4,320.9 C160.83,321.58 163.27,322.48 165.7,323.3 C168.13,324.12 170.57,324.98 173,325.8 C175.43,326.62 178.12,327.6 180.3,328.2 C182.48,328.8 185.13,329.2 186.1,329.4" fill="none" stroke="#2166AC" stroke-width="3" stroke-linecap="butt" stroke-linejoin="round"/></g><rect x="17" y="283.5" width="195.6" height="207.9" fill="none" stroke="#333333" stroke-width="1.1"/><line x1="14.8" y1="473.75" x2="17" y2="473.75" stroke="#333333" stroke-width="1.1"/><text x="12.9" y="476.75" font-size="8" text-anchor="end" fill="#222222" stroke="#333" stroke-width="0.2">10</text><line x1="14.8" y1="436.2" x2="17" y2="436.2" stroke="#333333" stroke-width="1.1"/><text x="12.9" y="439.2" font-size="8" text-anchor="end" fill="#222222" stroke="#333" stroke-width="0.2">20</text><line x1="14.8" y1="398.65" x2="17" y2="398.65" stroke="#333333" stroke-width="1.1"/><text x="12.9" y="401.65" font-size="8" text-anchor="end" fill="#222222" stroke="#333" stroke-width="0.2">30</text><line x1="14.8" y1="361.1" x2="17" y2="361.1" stroke="#333333" stroke-width="1.1"/><text x="12.9" y="364.1" font-size="8" text-anchor="end" fill="#222222" stroke="#333" stroke-width="0.2">40</text><line x1="14.8" y1="323.55" x2="17" y2="323.55" stroke="#333333" stroke-width="1.1"/><text x="12.9" y="326.55" font-size="8" text-anchor="end" fill="#222222" stroke="#333" stroke-width="0.2">50</text><line x1="14.8" y1="286" x2="17" y2="286" stroke="#333333" stroke-width="1.1"/><text x="12.9" y="289" font-size="8" text-anchor="end" fill="#222222" stroke="#333" stroke-width="0.2">60</text><line x1="27.5" y1="491.4" x2="27.5" y2="493.6" stroke="#333333" stroke-width="1.1"/><text x="28" y="505.7" font-size="8" text-anchor="middle" fill="#222222" stroke="#333" stroke-width="0.2">1</text><line x1="49.75" y1="491.4" x2="49.75" y2="493.6" stroke="#333333" stroke-width="1.1"/><text x="50.25" y="505.7" font-size="8" text-anchor="middle" fill="#222222" stroke="#333" stroke-width="0.2">2</text><line x1="72" y1="491.4" x2="72" y2="493.6" stroke="#333333" stroke-width="1.1"/><text x="72.5" y="505.7" font-size="8" text-anchor="middle" fill="#222222" stroke="#333" stroke-width="0.2">3</text><line x1="94.25" y1="491.4" x2="94.25" y2="493.6" stroke="#333333" stroke-width="1.1"/><text x="94.75" y="505.7" font-size="8" text-anchor="middle" fill="#222222" stroke="#333" stroke-width="0.2">4</text><line x1="116.5" y1="491.4" x2="116.5" y2="493.6" stroke="#333333" stroke-width="1.1"/><text x="117" y="505.7" font-size="8" text-anchor="middle" fill="#222222" stroke="#333" stroke-width="0.2">5</text><line x1="138.75" y1="491.4" x2="138.75" y2="493.6" stroke="#333333" stroke-width="1.1"/><text x="139.25" y="505.7" font-size="8" text-anchor="middle" fill="#222222" stroke="#333" stroke-width="0.2">6</text><line x1="161" y1="491.4" x2="161" y2="493.6" stroke="#333333" stroke-width="1.1"/><text x="161.5" y="505.7" font-size="8" text-anchor="middle" fill="#222222" stroke="#333" stroke-width="0.2">7</text><line x1="183.25" y1="491.4" x2="183.25" y2="493.6" stroke="#333333" stroke-width="1.1"/><text x="183.75" y="505.7" font-size="8" text-anchor="middle" fill="#222222" stroke="#333" stroke-width="0.2">10</text><line x1="205.5" y1="491.4" x2="205.5" y2="493.6" stroke="#333333" stroke-width="1.1"/><text x="206" y="505.7" font-size="8" text-anchor="middle" fill="#222222" stroke="#333" stroke-width="0.2">soil</text><text x="78.5" y="514.9" font-size="7.5" textLength="109" lengthAdjust="spacingAndGlyphs" fill="#111" stroke="#222" stroke-width="0.22">length of decomposition (years)</text>
<clipPath id="c5"><rect x="250.7" y="283.6" width="195.3" height="208.2"/></clipPath><text x="256.2" y="277.2" font-size="15.9" font-weight="bold" fill="#000">Nitrogen content (%)</text><g clip-path="url(#c5)"><g stroke="#B2182B" stroke-width="1.4" fill="none"><line x1="257.7" y1="462.2" x2="257.7" y2="466"/><line x1="257.7" y1="469.9" x2="257.7" y2="471.4"/><rect x="253.5" y="466" width="8.4" height="3.9" fill="#fff"/><line x1="253.5" y1="467.7" x2="261.9" y2="467.7" stroke-width="2.6"/></g><circle cx="257.7" cy="453.9" r="2.4" fill="#B2182B"/><g stroke="#B2182B" stroke-width="1.4" fill="none"><line x1="280" y1="467.5" x2="280" y2="470.4"/><line x1="280" y1="473.9" x2="280" y2="476"/><rect x="275.8" y="470.4" width="8.4" height="3.5" fill="#fff"/><line x1="275.8" y1="471.8" x2="284.2" y2="471.8" stroke-width="2.6"/></g><circle cx="280" cy="463.6" r="2.4" fill="#B2182B"/><g stroke="#B2182B" stroke-width="1.4" fill="none"><line x1="302.3" y1="462.2" x2="302.3" y2="467"/><line x1="302.3" y1="475" x2="302.3" y2="479.4"/><rect x="298.1" y="467" width="8.4" height="8" fill="#fff"/><line x1="298.1" y1="471.5" x2="306.5" y2="471.5" stroke-width="2.6"/></g><g stroke="#B2182B" stroke-width="1.4" fill="none"><line x1="324.6" y1="465.5" x2="324.6" y2="467.7"/><line x1="324.6" y1="471.4" x2="324.6" y2="474"/><rect x="320.4" y="467.7" width="8.4" height="3.7" fill="#fff"/><line x1="320.4" y1="469.5" x2="328.8" y2="469.5" stroke-width="2.6"/></g><circle cx="324.6" cy="461.2" r="2.4" fill="#B2182B"/><g stroke="#B2182B" stroke-width="1.4" fill="none"><line x1="346.9" y1="439.9" x2="346.9" y2="452.1"/><line x1="346.9" y1="464.7" x2="346.9" y2="477.6"/><rect x="342.7" y="452.1" width="8.4" height="12.6" fill="#fff"/><line x1="342.7" y1="457.6" x2="351.1" y2="457.6" stroke-width="2.6"/></g><circle cx="346.9" cy="426.9" r="2.4" fill="#B2182B"/><g stroke="#B2182B" stroke-width="1.4" fill="none"><line x1="369.2" y1="448.1" x2="369.2" y2="464.7"/><line x1="369.2" y1="481.2" x2="369.2" y2="484"/><rect x="365" y="464.7" width="8.4" height="16.5" fill="#fff"/><line x1="365" y1="474.1" x2="373.4" y2="474.1" stroke-width="2.6"/></g><circle cx="369.2" cy="432.3" r="2.4" fill="#B2182B"/><g stroke="#B2182B" stroke-width="1.4" fill="none"><line x1="391.5" y1="403.3" x2="391.5" y2="422.2"/><line x1="391.5" y1="445.3" x2="391.5" y2="450.5"/><rect x="387.3" y="422.2" width="8.4" height="23.1" fill="#fff"/><line x1="387.3" y1="436.3" x2="395.7" y2="436.3" stroke-width="2.6"/></g><g stroke="#B2182B" stroke-width="1.4" fill="none"><line x1="413.8" y1="421" x2="413.8" y2="438.7"/><line x1="413.8" y1="451.7" x2="413.8" y2="455"/><rect x="409.6" y="438.7" width="8.4" height="13" fill="#fff"/><line x1="409.6" y1="450.5" x2="418" y2="450.5" stroke-width="2.6"/></g><circle cx="413.8" cy="401.6" r="2.4" fill="#B2182B"/><g stroke="#2166AC" stroke-width="1.4" fill="none"><line x1="260.1" y1="473.6" x2="260.1" y2="476"/><line x1="260.1" y1="479" x2="260.1" y2="480.9"/><rect x="255.9" y="476" width="8.4" height="3" fill="#fff"/><line x1="255.9" y1="477.5" x2="264.3" y2="477.5" stroke-width="2.6"/></g><g stroke="#2166AC" stroke-width="1.4" fill="none"><line x1="282.4" y1="474" x2="282.4" y2="475.6"/><line x1="282.4" y1="477.9" x2="282.4" y2="480"/><rect x="278.2" y="475.6" width="8.4" height="2.3" fill="#fff"/><line x1="278.2" y1="476.7" x2="286.6" y2="476.7" stroke-width="2.6"/></g><g stroke="#2166AC" stroke-width="1.4" fill="none"><line x1="304.7" y1="459.7" x2="304.7" y2="467"/><line x1="304.7" y1="474.5" x2="304.7" y2="480.1"/><rect x="300.5" y="467" width="8.4" height="7.5" fill="#fff"/><line x1="300.5" y1="471.4" x2="308.9" y2="471.4" stroke-width="2.6"/></g><g stroke="#2166AC" stroke-width="1.4" fill="none"><line x1="327" y1="472.5" x2="327" y2="474.8"/><line x1="327" y1="478.8" x2="327" y2="480.5"/><rect x="322.8" y="474.8" width="8.4" height="4" fill="#fff"/><line x1="322.8" y1="476.8" x2="331.2" y2="476.8" stroke-width="2.6"/></g><g stroke="#2166AC" stroke-width="1.4" fill="none"><line x1="349.3" y1="452.9" x2="349.3" y2="461.1"/><line x1="349.3" y1="472.9" x2="349.3" y2="481.2"/><rect x="345.1" y="461.1" width="8.4" height="11.8" fill="#fff"/><line x1="345.1" y1="468.2" x2="353.5" y2="468.2" stroke-width="2.6"/></g><circle cx="349.3" cy="432.3" r="2.4" fill="#2166AC"/><g stroke="#2166AC" stroke-width="1.4" fill="none"><line x1="371.6" y1="475" x2="371.6" y2="477.6"/><line x1="371.6" y1="486.4" x2="371.6" y2="490.6"/><rect x="367.4" y="477.6" width="8.4" height="8.8" fill="#fff"/><line x1="367.4" y1="482.4" x2="375.8" y2="482.4" stroke-width="2.6"/></g><g stroke="#2166AC" stroke-width="1.4" fill="none"><line x1="393.9" y1="431.6" x2="393.9" y2="448.1"/><line x1="393.9" y1="464" x2="393.9" y2="470.6"/><rect x="389.7" y="448.1" width="8.4" height="15.9" fill="#fff"/><line x1="389.7" y1="452.9" x2="398.1" y2="452.9" stroke-width="2.6"/></g><g stroke="#2166AC" stroke-width="1.4" fill="none"><line x1="416.2" y1="435.6" x2="416.2" y2="451.7"/><line x1="416.2" y1="465.8" x2="416.2" y2="472.9"/><rect x="412" y="451.7" width="8.4" height="14.1" fill="#fff"/><line x1="412" y1="461.1" x2="420.4" y2="461.1" stroke-width="2.6"/></g><g stroke="#7f7f7f" stroke-width="1.4" fill="none"><line x1="436" y1="383.7" x2="436" y2="425.2"/><line x1="436" y1="452.9" x2="436" y2="465.4"/><rect x="431.8" y="425.2" width="8.4" height="27.7" fill="#fff"/><line x1="431.8" y1="438.7" x2="440.2" y2="438.7" stroke-width="2.6"/></g><circle cx="436" cy="293.3" r="2.4" fill="#7f7f7f"/><line x1="257.9" y1="438.7" x2="440.8" y2="438.7" stroke="#7f7f7f" stroke-width="3"/><path d="M252.9,468 C253.88,468.08 256.85,468.23 258.8,468.5 C260.75,468.77 262.42,469.2 264.6,469.6 C266.78,470 269.47,470.53 271.9,470.9 C274.33,471.27 276.77,471.55 279.2,471.8 C281.63,472.05 284.07,472.25 286.5,472.4 C288.93,472.55 291.37,472.7 293.8,472.7 C296.23,472.7 298.67,472.73 301.1,472.4 C303.53,472.07 305.97,471.43 308.4,470.7 C310.83,469.97 313.27,468.68 315.7,468 C318.13,467.32 320.57,466.82 323,466.6 C325.43,466.38 327.87,466.63 330.3,466.7 C332.73,466.77 335.17,467 337.6,467 C340.03,467 342.83,466.87 344.9,466.7 C346.97,466.53 347.65,466.62 350,466 C352.35,465.38 355.8,464.28 359,463 C362.2,461.72 365.7,459.93 369.2,458.3 C372.7,456.67 376.25,454.9 380,453.2 C383.75,451.5 388.03,449.72 391.7,448.1 C395.37,446.48 398.47,445.07 402,443.5 C405.53,441.93 411.08,439.5 412.9,438.7" fill="none" stroke="#B2182B" stroke-width="3" stroke-linecap="butt" stroke-linejoin="round"/><path d="M269,478 C270.7,477.87 276.28,477.45 279.2,477.2 C282.12,476.95 284.07,476.73 286.5,476.5 C288.93,476.27 291.37,476.05 293.8,475.8 C296.23,475.55 298.67,475.25 301.1,475 C303.53,474.75 305.97,474.58 308.4,474.3 C310.83,474.02 313.27,473.67 315.7,473.3 C318.13,472.93 320.57,472.5 323,472.1 C325.43,471.7 327.87,471.13 330.3,470.9 C332.73,470.67 335.17,470.55 337.6,470.7 C340.03,470.85 342.83,471.45 344.9,471.8 C346.97,472.15 348.15,472.43 350,472.8 C351.85,473.17 354,473.72 356,474 C358,474.28 359.98,474.48 362,474.5 C364.02,474.52 365.1,474.68 368.1,474.1 C371.1,473.52 376.07,472.18 380,471 C383.93,469.82 387.03,468.5 391.7,467 C396.37,465.5 402.5,463.68 408,462 C413.5,460.32 421.92,457.75 424.7,456.9" fill="none" stroke="#2166AC" stroke-width="3" stroke-linecap="butt" stroke-linejoin="round"/></g><rect x="250.7" y="283.6" width="195.3" height="208.2" fill="none" stroke="#333333" stroke-width="1.1"/><line x1="248.5" y1="491.5" x2="250.7" y2="491.5" stroke="#333333" stroke-width="1.1"/><text x="246.6" y="494.5" font-size="8" text-anchor="end" fill="#222222" stroke="#333" stroke-width="0.2">0.0</text><line x1="248.5" y1="447.4" x2="250.7" y2="447.4" stroke="#333333" stroke-width="1.1"/><text x="246.6" y="450.4" font-size="8" text-anchor="end" fill="#222222" stroke="#333" stroke-width="0.2">0.5</text><line x1="248.5" y1="403.3" x2="250.7" y2="403.3" stroke="#333333" stroke-width="1.1"/><text x="246.6" y="406.3" font-size="8" text-anchor="end" fill="#222222" stroke="#333" stroke-width="0.2">1.0</text><line x1="248.5" y1="359.2" x2="250.7" y2="359.2" stroke="#333333" stroke-width="1.1"/><text x="246.6" y="362.2" font-size="8" text-anchor="end" fill="#222222" stroke="#333" stroke-width="0.2">1.5</text><line x1="248.5" y1="315.1" x2="250.7" y2="315.1" stroke="#333333" stroke-width="1.1"/><text x="246.6" y="318.1" font-size="8" text-anchor="end" fill="#222222" stroke="#333" stroke-width="0.2">2.0</text><line x1="257.4" y1="491.8" x2="257.4" y2="494" stroke="#333333" stroke-width="1.1"/><text x="257.9" y="505.7" font-size="8" text-anchor="middle" fill="#222222" stroke="#333" stroke-width="0.2">1</text><line x1="279.7" y1="491.8" x2="279.7" y2="494" stroke="#333333" stroke-width="1.1"/><text x="280.2" y="505.7" font-size="8" text-anchor="middle" fill="#222222" stroke="#333" stroke-width="0.2">2</text><line x1="302" y1="491.8" x2="302" y2="494" stroke="#333333" stroke-width="1.1"/><text x="302.5" y="505.7" font-size="8" text-anchor="middle" fill="#222222" stroke="#333" stroke-width="0.2">3</text><line x1="324.3" y1="491.8" x2="324.3" y2="494" stroke="#333333" stroke-width="1.1"/><text x="324.8" y="505.7" font-size="8" text-anchor="middle" fill="#222222" stroke="#333" stroke-width="0.2">4</text><line x1="346.6" y1="491.8" x2="346.6" y2="494" stroke="#333333" stroke-width="1.1"/><text x="347.1" y="505.7" font-size="8" text-anchor="middle" fill="#222222" stroke="#333" stroke-width="0.2">5</text><line x1="368.9" y1="491.8" x2="368.9" y2="494" stroke="#333333" stroke-width="1.1"/><text x="369.4" y="505.7" font-size="8" text-anchor="middle" fill="#222222" stroke="#333" stroke-width="0.2">6</text><line x1="391.2" y1="491.8" x2="391.2" y2="494" stroke="#333333" stroke-width="1.1"/><text x="391.7" y="505.7" font-size="8" text-anchor="middle" fill="#222222" stroke="#333" stroke-width="0.2">7</text><line x1="413.5" y1="491.8" x2="413.5" y2="494" stroke="#333333" stroke-width="1.1"/><text x="414" y="505.7" font-size="8" text-anchor="middle" fill="#222222" stroke="#333" stroke-width="0.2">10</text><line x1="435.8" y1="491.8" x2="435.8" y2="494" stroke="#333333" stroke-width="1.1"/><text x="436.3" y="505.7" font-size="8" text-anchor="middle" fill="#222222" stroke="#333" stroke-width="0.2">soil</text><text x="307.6" y="514.9" font-size="7.5" textLength="109" lengthAdjust="spacingAndGlyphs" fill="#111" stroke="#222" stroke-width="0.22">length of decomposition (years)</text>
<clipPath id="c6"><rect x="488.6" y="283" width="195" height="208.3"/></clipPath><text x="496.4" y="276.9" font-size="15.9" font-weight="bold" fill="#000">Carbon/nitrogen ratio</text><g clip-path="url(#c6)"><g stroke="#B2182B" stroke-width="1.4" fill="none"><line x1="495.7" y1="454.3" x2="495.7" y2="459.4"/><line x1="495.7" y1="463.6" x2="495.7" y2="467.1"/><rect x="491.5" y="459.4" width="8.4" height="4.2" fill="#fff"/><line x1="491.5" y1="461.3" x2="499.9" y2="461.3" stroke-width="2.6"/></g><circle cx="495.7" cy="449.7" r="2.4" fill="#B2182B"/><circle cx="495.7" cy="472.9" r="2.4" fill="#B2182B"/><g stroke="#B2182B" stroke-width="1.4" fill="none"><line x1="517.69" y1="447" x2="517.69" y2="450.8"/><line x1="517.69" y1="460.8" x2="517.69" y2="467.1"/><rect x="513.49" y="450.8" width="8.4" height="10" fill="#fff"/><line x1="513.49" y1="455.5" x2="521.89" y2="455.5" stroke-width="2.6"/></g><g stroke="#B2182B" stroke-width="1.4" fill="none"><line x1="539.68" y1="445" x2="539.68" y2="447.4"/><line x1="539.68" y1="456.2" x2="539.68" y2="462.5"/><rect x="535.48" y="447.4" width="8.4" height="8.8" fill="#fff"/><line x1="535.48" y1="450.8" x2="543.88" y2="450.8" stroke-width="2.6"/></g><circle cx="539.68" cy="419.5" r="2.4" fill="#B2182B"/><circle cx="539.68" cy="423.7" r="2.4" fill="#B2182B"/><g stroke="#B2182B" stroke-width="1.4" fill="none"><line x1="561.67" y1="440" x2="561.67" y2="442.7"/><line x1="561.67" y1="449.7" x2="561.67" y2="462.5"/><rect x="557.47" y="442.7" width="8.4" height="7" fill="#fff"/><line x1="557.47" y1="446.9" x2="565.87" y2="446.9" stroke-width="2.6"/></g><circle cx="561.67" cy="415.3" r="2.4" fill="#B2182B"/><g stroke="#B2182B" stroke-width="1.4" fill="none"><line x1="583.66" y1="458" x2="583.66" y2="461.8"/><line x1="583.66" y1="470.6" x2="583.66" y2="478"/><rect x="579.46" y="461.8" width="8.4" height="8.8" fill="#fff"/><line x1="579.46" y1="466.4" x2="587.86" y2="466.4" stroke-width="2.6"/></g><circle cx="583.66" cy="436.9" r="2.4" fill="#B2182B"/><g stroke="#B2182B" stroke-width="1.4" fill="none"><line x1="605.65" y1="458.2" x2="605.65" y2="475.5"/><rect x="601.45" y="409.7" width="8.4" height="48.5" fill="#fff"/><line x1="601.45" y1="440.5" x2="609.85" y2="440.5" stroke-width="2.6"/></g><circle cx="605.65" cy="331.5" r="2.4" fill="#B2182B"/><g stroke="#B2182B" stroke-width="1.4" fill="none"><line x1="627.64" y1="471" x2="627.64" y2="473.3"/><line x1="627.64" y1="479.4" x2="627.64" y2="482.1"/><rect x="623.44" y="473.3" width="8.4" height="6.1" fill="#fff"/><line x1="623.44" y1="476.8" x2="631.84" y2="476.8" stroke-width="2.6"/></g><g stroke="#B2182B" stroke-width="1.4" fill="none"><line x1="649.63" y1="468" x2="649.63" y2="470.2"/><line x1="649.63" y1="475.5" x2="649.63" y2="477"/><rect x="645.43" y="470.2" width="8.4" height="5.3" fill="#fff"/><line x1="645.43" y1="472.8" x2="653.83" y2="472.8" stroke-width="2.6"/></g><circle cx="649.63" cy="472.3" r="2.4" fill="#B2182B"/><g stroke="#2166AC" stroke-width="1.4" fill="none"><line x1="498.3" y1="421.3" x2="498.3" y2="433"/><line x1="498.3" y1="442.7" x2="498.3" y2="447.4"/><rect x="494.1" y="433" width="8.4" height="9.7" fill="#fff"/><line x1="494.1" y1="438.1" x2="502.5" y2="438.1" stroke-width="2.6"/></g><g stroke="#2166AC" stroke-width="1.4" fill="none"><line x1="520.29" y1="416.7" x2="520.29" y2="433.9"/><line x1="520.29" y1="445" x2="520.29" y2="452"/><rect x="516.09" y="433.9" width="8.4" height="11.1" fill="#fff"/><line x1="516.09" y1="437.6" x2="524.49" y2="437.6" stroke-width="2.6"/></g><g stroke="#2166AC" stroke-width="1.4" fill="none"><line x1="542.28" y1="409.7" x2="542.28" y2="434.6"/><line x1="542.28" y1="454.3" x2="542.28" y2="462.5"/><rect x="538.08" y="434.6" width="8.4" height="19.7" fill="#fff"/><line x1="538.08" y1="441.6" x2="546.48" y2="441.6" stroke-width="2.6"/></g><g stroke="#2166AC" stroke-width="1.4" fill="none"><line x1="564.27" y1="403.9" x2="564.27" y2="421.3"/><line x1="564.27" y1="441.6" x2="564.27" y2="448"/><rect x="560.07" y="421.3" width="8.4" height="20.3" fill="#fff"/><line x1="560.07" y1="433" x2="568.47" y2="433" stroke-width="2.6"/></g><g stroke="#2166AC" stroke-width="1.4" fill="none"><line x1="586.26" y1="424.4" x2="586.26" y2="444.6"/><line x1="586.26" y1="463.7" x2="586.26" y2="476.4"/><rect x="582.06" y="444.6" width="8.4" height="19.1" fill="#fff"/><line x1="582.06" y1="451.5" x2="590.46" y2="451.5" stroke-width="2.6"/></g><circle cx="586.26" cy="401.3" r="2.4" fill="#2166AC"/><circle cx="586.26" cy="413" r="2.4" fill="#2166AC"/><g stroke="#2166AC" stroke-width="1.4" fill="none"><line x1="608.25" y1="296.9" x2="608.25" y2="361.2"/><line x1="608.25" y1="426.4" x2="608.25" y2="446.3"/><rect x="604.05" y="361.2" width="8.4" height="65.2" fill="#fff"/><line x1="604.05" y1="390.1" x2="612.45" y2="390.1" stroke-width="2.6"/></g><g stroke="#2166AC" stroke-width="1.4" fill="none"><line x1="630.24" y1="447.6" x2="630.24" y2="460.1"/><line x1="630.24" y1="472.3" x2="630.24" y2="475"/><rect x="626.04" y="460.1" width="8.4" height="12.2" fill="#fff"/><line x1="626.04" y1="468.8" x2="634.44" y2="468.8" stroke-width="2.6"/></g><g stroke="#2166AC" stroke-width="1.4" fill="none"><line x1="652.23" y1="445" x2="652.23" y2="455.6"/><line x1="652.23" y1="470.2" x2="652.23" y2="480.2"/><rect x="648.03" y="455.6" width="8.4" height="14.6" fill="#fff"/><line x1="648.03" y1="461.7" x2="656.43" y2="461.7" stroke-width="2.6"/></g><line x1="497.8" y1="487.4" x2="675.7" y2="487.4" stroke="#7f7f7f" stroke-width="3"/><path d="M493.1,462.5 C495.08,461.75 500.55,459.55 505,458 C509.45,456.45 515.63,454.62 519.8,453.2 C523.97,451.78 526.9,450.4 530,449.5 C533.1,448.6 535.45,447.85 538.4,447.8 C541.35,447.75 544.02,448.53 547.7,449.2 C551.38,449.87 556.25,451.8 560.5,451.8 C564.75,451.8 568.6,449.82 573.2,449.2 C577.8,448.58 584.03,448.07 588.1,448.1 C592.17,448.13 594.77,448.88 597.6,449.4 C600.43,449.92 602.58,450.37 605.1,451.2 C607.62,452.03 610.18,453.23 612.7,454.4 C615.22,455.57 617.68,456.82 620.2,458.2 C622.72,459.58 625.28,461.23 627.8,462.7 C630.32,464.17 632.78,465.43 635.3,467 C637.82,468.57 640.38,470.2 642.9,472.1 C645.42,474 649.15,477.35 650.4,478.4" fill="none" stroke="#B2182B" stroke-width="3" stroke-linecap="butt" stroke-linejoin="round"/><path d="M495.5,438.1 C497.42,438.18 502.95,438.53 507,438.6 C511.05,438.67 515.63,438.6 519.8,438.5 C523.97,438.4 528.05,437.98 532,438 C535.95,438.02 540.52,437.8 543.5,438.6 C546.48,439.4 547.78,441.22 549.9,442.8 C552.02,444.38 554.43,446.85 556.2,448.1 C557.97,449.35 559.08,450.3 560.5,450.3 C561.92,450.3 563.28,450.05 564.7,448.1 C566.12,446.15 567.67,442.38 569,438.6 C570.33,434.82 571.28,429.92 572.7,425.4 C574.12,420.88 575.62,415.82 577.5,411.5 C579.38,407.18 581.45,403.27 584,399.5 C586.55,395.73 590.07,392.13 592.8,388.9 C595.53,385.67 598.13,382.67 600.4,380.1 C602.67,377.53 604.35,374.33 606.4,373.5 C608.45,372.67 610.4,373.37 612.7,375.1 C615,376.83 617.68,380.33 620.2,383.9 C622.72,387.47 625.28,391.47 627.8,396.5 C630.32,401.53 632.78,407.6 635.3,414.1 C637.82,420.6 640.8,428.57 642.9,435.5 C645,442.43 646.43,449.4 647.9,455.7 C649.37,462 650.85,469.32 651.7,473.3 C652.55,477.28 652.78,478.55 653,479.6" fill="none" stroke="#2166AC" stroke-width="3" stroke-linecap="butt" stroke-linejoin="round"/></g><rect x="488.6" y="283" width="195" height="208.3" fill="none" stroke="#333333" stroke-width="1.1"/><line x1="486.4" y1="491.5" x2="488.6" y2="491.5" stroke="#333333" stroke-width="1.1"/><text x="484.5" y="494.5" font-size="8" text-anchor="end" fill="#222222" stroke="#333" stroke-width="0.2">0</text><line x1="486.4" y1="442.1" x2="488.6" y2="442.1" stroke="#333333" stroke-width="1.1"/><text x="484.5" y="445.1" font-size="8" text-anchor="end" fill="#222222" stroke="#333" stroke-width="0.2">250</text><line x1="486.4" y1="392.7" x2="488.6" y2="392.7" stroke="#333333" stroke-width="1.1"/><text x="484.5" y="395.7" font-size="8" text-anchor="end" fill="#222222" stroke="#333" stroke-width="0.2">500</text><line x1="486.4" y1="343.3" x2="488.6" y2="343.3" stroke="#333333" stroke-width="1.1"/><text x="484.5" y="346.3" font-size="8" text-anchor="end" fill="#222222" stroke="#333" stroke-width="0.2">750</text><line x1="486.4" y1="293.9" x2="488.6" y2="293.9" stroke="#333333" stroke-width="1.1"/><text x="484.5" y="296.9" font-size="8" text-anchor="end" fill="#222222" stroke="#333" stroke-width="0.2">1000</text><line x1="497.7" y1="491.3" x2="497.7" y2="493.5" stroke="#333333" stroke-width="1.1"/><text x="498.2" y="505.7" font-size="8" text-anchor="middle" fill="#222222" stroke="#333" stroke-width="0.2">1</text><line x1="519.98" y1="491.3" x2="519.98" y2="493.5" stroke="#333333" stroke-width="1.1"/><text x="520.48" y="505.7" font-size="8" text-anchor="middle" fill="#222222" stroke="#333" stroke-width="0.2">2</text><line x1="542.26" y1="491.3" x2="542.26" y2="493.5" stroke="#333333" stroke-width="1.1"/><text x="542.76" y="505.7" font-size="8" text-anchor="middle" fill="#222222" stroke="#333" stroke-width="0.2">3</text><line x1="564.54" y1="491.3" x2="564.54" y2="493.5" stroke="#333333" stroke-width="1.1"/><text x="565.04" y="505.7" font-size="8" text-anchor="middle" fill="#222222" stroke="#333" stroke-width="0.2">4</text><line x1="586.82" y1="491.3" x2="586.82" y2="493.5" stroke="#333333" stroke-width="1.1"/><text x="587.32" y="505.7" font-size="8" text-anchor="middle" fill="#222222" stroke="#333" stroke-width="0.2">5</text><line x1="609.1" y1="491.3" x2="609.1" y2="493.5" stroke="#333333" stroke-width="1.1"/><text x="609.6" y="505.7" font-size="8" text-anchor="middle" fill="#222222" stroke="#333" stroke-width="0.2">6</text><line x1="631.38" y1="491.3" x2="631.38" y2="493.5" stroke="#333333" stroke-width="1.1"/><text x="631.88" y="505.7" font-size="8" text-anchor="middle" fill="#222222" stroke="#333" stroke-width="0.2">7</text><line x1="653.66" y1="491.3" x2="653.66" y2="493.5" stroke="#333333" stroke-width="1.1"/><text x="654.16" y="505.7" font-size="8" text-anchor="middle" fill="#222222" stroke="#333" stroke-width="0.2">10</text><line x1="675.94" y1="491.3" x2="675.94" y2="493.5" stroke="#333333" stroke-width="1.1"/><text x="676.44" y="505.7" font-size="8" text-anchor="middle" fill="#222222" stroke="#333" stroke-width="0.2">soil</text><text x="548" y="514.9" font-size="7.5" textLength="109" lengthAdjust="spacingAndGlyphs" fill="#111" stroke="#222" stroke-width="0.22">length of decomposition (years)</text>
<g stroke="#B2182B" stroke-width="1.4" fill="#fff"><line x1="171.8" y1="24.1" x2="171.8" y2="26.3"/><line x1="171.8" y1="34.7" x2="171.8" y2="36.900000000000006"/><rect x="165.8" y="26.3" width="12.0" height="8.400000000000002"/><line x1="165.8" y1="30.5" x2="177.8" y2="30.5" stroke-width="2.8"/></g><g stroke="#2166AC" stroke-width="1.4" fill="#fff"><line x1="171.8" y1="39.099999999999994" x2="171.8" y2="41.3"/><line x1="171.8" y1="49.7" x2="171.8" y2="51.900000000000006"/><rect x="165.8" y="41.3" width="12.0" height="8.400000000000006"/><line x1="165.8" y1="45.5" x2="177.8" y2="45.5" stroke-width="2.8"/></g><g stroke="#999999" stroke-width="1.4" fill="#fff"><line x1="171.8" y1="54.099999999999994" x2="171.8" y2="56.3"/><line x1="171.8" y1="64.7" x2="171.8" y2="66.9"/><rect x="165.8" y="56.3" width="12.0" height="8.400000000000006"/><line x1="165.8" y1="60.5" x2="177.8" y2="60.5" stroke-width="2.8"/></g><g font-size="7.7" fill="#111" stroke="#222" stroke-width="0.2"><text x="184.5" y="33.4">Beech</text><text x="184.5" y="48.4">Fir</text><text x="184.5" y="63.4">Soil</text></g>
</svg>
</body></html>
